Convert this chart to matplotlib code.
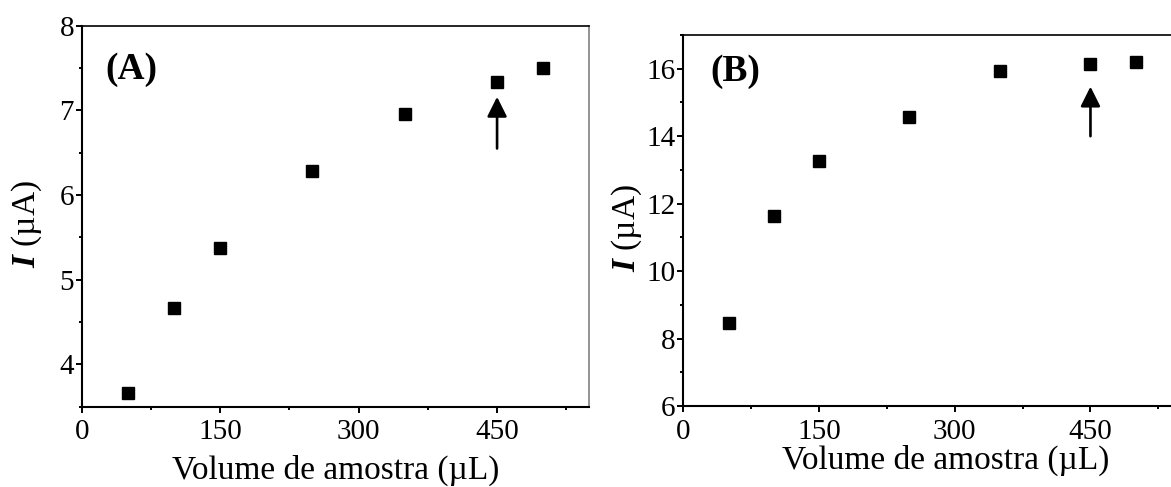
import numpy as np
import matplotlib
matplotlib.use("Agg")
import matplotlib.pyplot as plt
from matplotlib.patches import FancyArrowPatch
from matplotlib.ticker import MultipleLocator

plt.rcParams['font.family'] = ['Liberation Serif', 'DejaVu Serif']
plt.rcParams['mathtext.fontset'] = 'custom'
plt.rcParams['mathtext.rm'] = 'Liberation Serif'
plt.rcParams['mathtext.it'] = 'Liberation Serif:italic:bold'

# sample volume (uL) and peak current (uA)
volume = [50, 100, 150, 250, 350, 450, 500]
current_a = [3.66, 4.67, 5.37, 6.28, 6.96, 7.33, 7.50]
current_b = [8.46, 11.63, 13.26, 14.58, 15.92, 16.14, 16.19]

# chosen volume marked by an arrow (x, y_start, y_end)
arrow_a = (450, 6.55, 7.16)
arrow_b = (450, 14.0, 15.47)

xlabel = 'Volume de amostra (\u00b5L)'
ylabel = '$I$ (\u00b5A)'

fig = plt.figure(figsize=(11.71, 4.87), dpi=100)
ax_a = fig.add_axes([0.0698, 0.1649, 0.4335, 0.7823])
ax_b = fig.add_axes([0.5835, 0.1663, 0.4250, 0.7618])


def style_axes(ax, ylim, ymajor, yticks):
    ax.set_xlim(0, 550)
    ax.set_ylim(*ylim)
    ax.set_xticks([0, 150, 300, 450])
    ax.xaxis.set_minor_locator(MultipleLocator(75))
    ax.set_yticks(yticks)
    ax.yaxis.set_minor_locator(MultipleLocator(ymajor / 2))
    ax.tick_params(which='both', direction='out', top=False, right=False,
                   labelsize=21, width=1.4)
    ax.tick_params(axis='x', which='major', length=4, pad=5)
    ax.tick_params(axis='y', which='major', length=4, pad=1.5)
    ax.tick_params(which='minor', length=2.5)
    ax.spines['left'].set_linewidth(1.5)
    ax.spines['bottom'].set_linewidth(1.5)
    ax.spines['top'].set_linewidth(1.2)
    ax.spines['right'].set_linewidth(1.2)
    ax.spines['right'].set_color('#808080')


def draw_arrow(ax, arr):
    x, y0, y1 = arr
    ax.add_patch(FancyArrowPatch((x, y0), (x, y1),
                                 arrowstyle='-|>,head_length=0.6,head_width=0.3',
                                 mutation_scale=20, lw=1.9, color='black',
                                 shrinkA=0, shrinkB=0))


ax_a.plot(volume, current_a, 's', color='black', ms=9.2)
style_axes(ax_a, (3.5, 8), 1, [4, 5, 6, 7, 8])
draw_arrow(ax_a, arrow_a)
ax_a.text(0.046, 0.886, '(A)', transform=ax_a.transAxes, fontsize=27,
          fontweight='bold', va='center', ha='left')
ax_a.set_xlabel(xlabel, fontsize=24, va='center')
ax_a.xaxis.set_label_coords(0.5, -0.166)
ax_a.set_ylabel(ylabel, fontsize=24, va='center')
ax_a.yaxis.set_label_coords(-0.108, 0.48)

ax_b.plot(volume, current_b, 's', color='black', ms=9.2)
style_axes(ax_b, (6, 17), 2, [6, 8, 10, 12, 14, 16])
draw_arrow(ax_b, arrow_b)
ax_b.text(0.055, 0.903, '(B)', transform=ax_b.transAxes, fontsize=27,
          fontweight='bold', va='center', ha='left')
ax_b.set_xlabel(xlabel, fontsize=24, va='center')
ax_b.xaxis.set_label_coords(0.528, -0.146)
ax_b.set_ylabel(ylabel, fontsize=24, va='center')
ax_b.yaxis.set_label_coords(-0.113, 0.48)

fig.savefig('out.png', dpi=100)
